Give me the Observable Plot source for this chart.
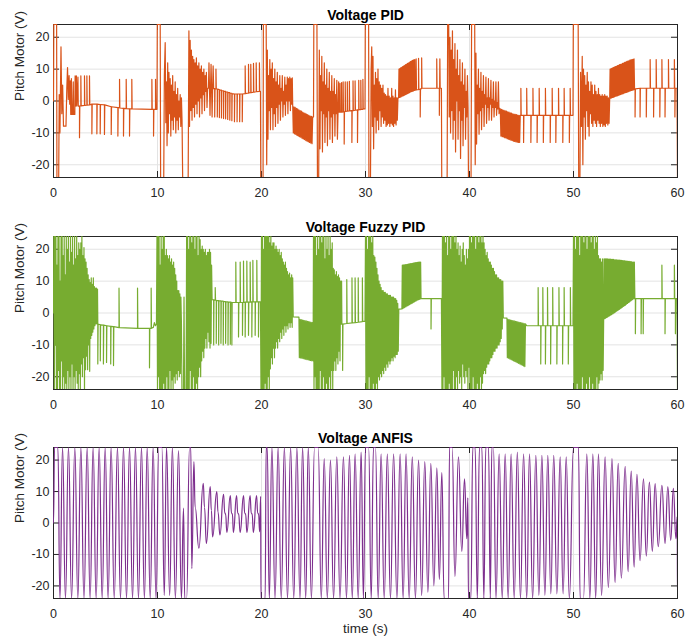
<!DOCTYPE html>
<html><head><meta charset="utf-8">
<script src="https://cdn.jsdelivr.net/npm/d3@7"></script>
<script src="https://cdn.jsdelivr.net/npm/@observablehq/plot@0.6"></script>
<style>
body{margin:0;background:#fff;}
#chart{width:685px;}
#chart svg{display:block;}
</style></head><body><div id="chart"></div>
<script>
const xTicks = [0,10,20,30,40,50,60];
const yTicks = [-20,-10,0,10,20];
const titles = ["Voltage PID","Voltage Fuzzy PID","Voltage ANFIS"];
const colors = ["#D95319","#77AC30","#7E2F8E"];
const yLabel = "Pitch Motor (V)";
const xLabel = "time (s)";

// PID: time (s), voltage (V) pairs
const pidTV = [
0,0, 0.03,24, 0.3,24, 0.33,-24, 0.5,-24, 0.55,2, 0.62,-10, 0.72,17, 0.8,-4, 0.88,5, 0.96,-7.9, 1.2,-7.9, 1.28,4, 1.35,10.5, 1.42,0.5, 1.5,8, 1.56,-1, 1.62,6.3, 1.66,-4.2, 1.72,7, 1.76,-4.2, 1.85,-4.2, 1.9,6, 1.94,-4.2, 2.05,-4.2, 2.08,7.9, 2.12,-1.6, 2.2,7.9, 2.24,-1.6, 2.35,7.5, 2.38,-1.6, 2.5,-1.6, 2.5,-11.5, 2.53,-1.6, 2.63,-1.5, 2.63,7.9, 2.66,-1.5, 2.98,-1.4, 2.98,7.9, 3.01,-1.4, 3.21,-1.3, 3.21,7.9, 3.24,-1.3, 3.46,-1.2, 3.46,7.9, 3.49,-1.2,
3.69,-1.0, 3.69,-10.3, 3.72,-1.0, 4.17,-1.0, 4.17,-10.3, 4.2,-1.0, 4.49,-1.1, 4.49,-10.3, 4.52,-1.1, 4.9,-1.2, 4.9,-10.5, 4.93,-1.2, 5.55,-1.8, 5.55,-10.5, 5.58,-1.8, 6.19,-2.1, 6.19,-11, 6.22,-2.1, 6.35,-2.1, 6.35,6.8, 6.38,-2.2, 6.73,-2.3, 6.73,-11, 6.76,-2.3, 6.99,-2.4, 6.99,6.8, 7.02,-2.4, 7.31,-2.5, 7.31,-11, 7.34,-2.5, 7.53,-2.5, 7.53,6.8, 7.56,-2.5, 9.46,-2.6, 9.46,6.8, 9.49,-2.6, 9.62,-2.6, 9.62,-11, 9.65,-2.6, 9.81,-2.6, 9.81,6.8, 9.84,-2.6,
9.95,-2.6, 9.98,24, 10.26,24, 10.3,-24, 10.6,-24, 10.66,8, 10.74,18.3, 10.8,-6.8, 10.86,6, 10.92,-14, 10.98,12, 11.04,-10, 11.1,9, 11.16,-4, 11.22,7, 11.28,-11, 11.34,5, 11.4,-6, 11.46,8, 11.52,-9, 11.58,3, 11.64,-5, 11.7,6, 11.76,-10, 11.82,2, 11.88,-6, 11.94,4, 12.0,-9, 12.06,0, 12.12,-5, 12.18,2, 12.24,-8, 12.3,1, 12.36,-6, 12.42,-24, 12.95,-24, 13.02,22, 13.08,-8, 13.14,19, 13.2,-3, 13.26,16, 13.32,-6, 13.38,14, 13.44,-2, 13.5,13, 13.56,-5, 13.62,12, 13.68,-1, 13.74,13.5, 13.8,-4, 13.86,11, 13.92,0, 13.98,12, 14.04,-5, 14.1,10, 14.16,1, 14.22,11, 14.28,-4, 14.34,9, 14.4,2, 14.46,10, 14.52,-3, 14.58,8, 14.64,3, 14.7,9, 14.76,-2, 14.82,4,
14.9,4, 14.95,12, 15.0,4, 15.05,-4.5, 15.1,4, 15.15,11.5, 15.2,4, 15.25,-5, 15.3,4, 15.35,11, 15.4,3.9, 15.5,3.9, 15.5,-5, 15.53,3.8, 15.62,3.8, 15.62,10, 15.65,3.8, 15.75,3.7, 15.75,-5, 15.78,3.7, 15.95,3.6, 15.95,-5.2, 15.98,3.5, 16.15,3.4, 16.15,-5.3, 16.18,3.3, 16.35,3.2, 16.35,-5.5, 16.38,3.1, 16.55,3.0, 16.55,-5.6, 16.58,2.9, 16.75,2.8, 16.75,-5.8, 16.78,2.7, 16.95,2.6, 16.95,-6, 16.98,2.5, 17.15,2.4, 17.15,-6.2, 17.18,2.3, 17.4,2.2, 17.4,-6.5, 17.43,2.2, 17.65,2.2, 17.65,-6.5, 17.68,2.2, 17.9,2.2, 17.9,-6.5, 17.93,2.2, 18.15,2.2, 18.15,-6.5, 18.18,2.2, 18.43,2.3, 18.43,11, 18.46,2.3, 18.75,2.5, 18.75,11.5, 18.78,2.5, 18.97,2.6, 18.97,11.5, 19.0,2.6, 19.23,2.8, 19.23,11.8, 19.26,2.8, 19.49,2.9, 19.49,12, 19.52,2.9, 19.8,3.0, 19.8,12, 19.83,3.0,
19.9,3, 19.93,-24, 20.15,-24, 20.18,24, 20.45,24, 20.5,-20, 20.56,16, 20.62,-12, 20.68,8, 20.74,-3, 20.8,13, 20.86,-9, 20.92,10, 20.98,-2, 21.04,12, 21.1,-9, 21.16,7, 21.22,-4, 21.28,10, 21.34,-8, 21.4,6, 21.46,-2, 21.52,9, 21.58,-7, 21.64,5, 21.7,-1, 21.76,8, 21.82,-6, 21.88,4, 21.94,0, 22.0,8, 22.06,-5, 22.12,3, 22.18,-1, 22.24,7.5, 22.3,-4.5, 22.36,5, 22.42,0, 22.48,7.5, 22.54,-4, 22.6,7, 22.66,0, 22.72,7.5, 22.78,-3, 22.84,7, 22.9,-1, 22.96,7.3, 23.0,-1.5,
23.06,-10, 23.12,-1.8, 23.18,-10.3, 23.24,-2.0, 23.3,-10.5, 23.36,-2.3, 23.42,-10.8, 23.48,-2.5, 23.54,-11, 23.6,-2.8, 23.66,-11.2, 23.72,-3.0, 23.78,-11.4, 23.84,-3.2, 23.9,-11.7, 23.96,-3.5, 24.02,-11.9, 24.08,-3.7, 24.14,-12.1, 24.2,-3.9, 24.26,-12.4, 24.32,-4.1, 24.38,-12.6, 24.44,-4.3, 24.5,-12.8, 24.56,-4.5, 24.62,-13, 24.68,-4.7, 24.74,-13.2, 24.8,-4.8, 24.86,-13.4, 24.92,-5,
25.0,-5, 25.03,24, 25.33,24, 25.38,-24, 25.5,-24, 25.56,16, 25.62,-15, 25.68,8, 25.74,-3, 25.8,14, 25.86,-16, 25.92,6, 25.98,-4, 26.04,12, 26.1,-13, 26.16,5, 26.22,-5, 26.28,10, 26.34,-14, 26.4,4, 26.46,-3, 26.52,9, 26.58,-12, 26.64,3, 26.7,-5, 26.76,8, 26.82,-13, 26.88,3, 26.94,-4, 27.0,7, 27.06,-11, 27.12,2, 27.18,-4, 27.24,6.5, 27.3,-12, 27.36,-3.5, 27.42,6, 27.46,-3.5,
27.55,-3.5, 27.55,5.5, 27.58,-3.5, 27.7,-3.5, 27.7,5.8, 27.73,-3.5, 27.85,-3.4, 27.85,6, 27.88,-3.4, 27.95,-3.4, 27.95,-13.5, 27.98,-3.4, 28.05,-3.3, 28.05,6, 28.08,-3.3, 28.25,-3.2, 28.25,6, 28.28,-3.2, 28.45,-3.1, 28.45,6.2, 28.48,-3.1, 28.69,-3.0, 28.69,-13, 28.72,-3.0, 28.8,-3.0, 28.8,6.3, 28.83,-3.0, 29.0,-2.9, 29.0,6.3, 29.03,-2.9, 29.23,-2.8, 29.23,-13, 29.26,-2.8, 29.35,-2.8, 29.35,6.5, 29.38,-2.7, 29.55,-2.7, 29.55,6.5, 29.58,-2.6, 29.75,-2.6, 29.75,6.8, 29.78,-2.5,
29.95,-2.5, 29.98,24, 30.3,24, 30.33,-24, 30.48,-24, 30.54,10, 30.6,17, 30.66,-8, 30.72,14, 30.78,-15, 30.84,5, 30.9,-5, 30.96,9, 31.02,-10, 31.08,7, 31.14,-6, 31.2,10, 31.26,-9, 31.32,6, 31.38,-3, 31.44,5, 31.5,-8, 31.56,4, 31.62,-5, 31.68,5, 31.74,-7, 31.8,2.5, 31.86,-6, 31.92,2, 31.98,-8, 32.04,1.5, 32.1,-7.5, 32.16,4, 32.22,-7, 32.28,1.5, 32.34,-8, 32.4,1, 32.46,-7, 32.52,4, 32.58,-7.5, 32.64,1.5, 32.7,-8, 32.76,1, 32.82,-7, 32.88,3.5, 32.94,-7.5, 33.0,1, 33.06,-6, 33.12,1,
33.18,1.0, 33.22,10, 33.26,1.1, 33.3,10.2, 33.34,1.2, 33.38,10.4, 33.42,1.3, 33.46,10.5, 33.5,1.5, 33.54,10.7, 33.58,1.6, 33.62,10.9, 33.66,1.7, 33.7,11, 33.74,1.8, 33.78,11.2, 33.82,2.0, 33.86,11.4, 33.9,2.1, 33.94,11.5, 33.98,2.2, 34.02,11.7, 34.06,2.4, 34.1,11.9, 34.14,2.5, 34.18,12, 34.22,2.6, 34.26,12.2, 34.3,2.8, 34.34,12.4, 34.38,2.9, 34.42,12.5, 34.46,3.0, 34.5,12.7, 34.54,3.1, 34.58,12.8, 34.62,3.2, 34.66,12.9, 34.7,3.3, 34.74,13, 34.78,3.4,
34.87,3.5, 34.87,13.2, 34.9,3.5, 35.1,3.6, 35.1,13.4, 35.13,3.6, 35.26,3.7, 35.26,-5, 35.29,3.8, 35.4,3.9, 35.4,13.5, 35.43,4, 36.85,4, 36.85,13.2, 36.88,4, 37.1,4, 37.1,-4.5, 37.13,4, 37.15,13.2, 37.18,4,
37.3,4, 37.33,-24, 37.85,-24, 37.9,24, 38.0,24, 38.05,-5, 38.12,20, 38.18,-10, 38.24,16, 38.3,-3, 38.36,22, 38.42,-12, 38.48,13, 38.54,-6, 38.6,18, 38.66,-16, 38.72,10, 38.78,0, 38.84,16, 38.9,-12, 38.96,8, 39.02,-3, 39.08,13, 39.14,-18, 39.2,6, 39.26,-6, 39.32,12, 39.38,-14, 39.44,5, 39.5,-2, 39.56,10, 39.62,-12, 39.68,3, 39.74,-5, 39.8,8, 39.86,-2, 39.9,-24, 40.15,-24, 40.2,24, 40.5,24, 40.55,-20,
40.62,15, 40.68,-13.5, 40.74,5, 40.8,-4, 40.86,10, 40.92,-10.4, 40.98,4, 41.04,-3, 41.1,9, 41.16,-9, 41.22,3, 41.28,-2, 41.34,8, 41.4,-8, 41.46,2, 41.52,-1, 41.58,7.5, 41.64,-7, 41.7,1, 41.76,-2, 41.82,7, 41.88,-6, 41.94,1, 42.0,-1, 42.06,6.5, 42.12,-6, 42.18,0.5, 42.24,-2, 42.3,6, 42.36,-5, 42.42,0, 42.48,-2, 42.54,6, 42.6,-4.5, 42.66,-0.5, 42.72,-2.5, 42.78,6, 42.84,-4, 42.9,-2.3, 42.96,-2.5,
43.02,-11, 43.08,-2.6, 43.14,-11.2, 43.2,-2.8, 43.26,-11.3, 43.32,-2.9, 43.38,-11.5, 43.44,-3.1, 43.5,-11.6, 43.56,-3.2, 43.62,-11.8, 43.68,-3.4, 43.74,-12, 43.8,-3.5, 43.86,-12.1, 43.92,-3.7, 43.98,-12.3, 44.04,-3.8, 44.1,-12.4, 44.16,-4.0, 44.22,-12.6, 44.28,-4.1, 44.34,-12.7, 44.4,-4.2, 44.46,-12.8, 44.52,-4.3, 44.58,-12.9, 44.64,-4.4, 44.7,-13, 44.76,-4.5, 44.82,-13, 44.88,-4.5,
44.94,-4.5, 44.94,4, 44.97,-4.5, 45.2,-4.5, 45.2,-13, 45.23,-4.5, 45.5,-4.5, 45.5,4, 45.53,-4.5, 45.9,-4.5, 45.9,-13, 45.93,-4.5, 46.1,-4.5, 46.1,4, 46.13,-4.5, 46.5,-4.5, 46.5,-13, 46.53,-4.5, 46.7,-4.5, 46.7,4, 46.73,-4.5, 47.1,-4.5, 47.1,-13, 47.13,-4.5, 47.3,-4.5, 47.3,4, 47.33,-4.5, 47.76,-4.5, 47.76,-13, 47.79,-4.5, 47.95,-4.5, 47.95,4, 47.98,-4.5, 48.3,-4.5, 48.3,-13, 48.33,-4.5, 48.56,-4.5, 48.56,4, 48.59,-4.5, 48.97,-4.5, 48.97,-13, 49.0,-4.5, 49.1,-4.5, 49.1,4, 49.13,-4.5, 49.6,-4.5, 49.6,-13, 49.63,-4.5, 49.68,-4.5, 49.68,4, 49.71,-4.5,
49.95,-4.5, 49.98,24, 50.45,24, 50.5,-24, 50.62,-24, 50.68,9, 50.76,-8, 50.84,14, 50.9,-20, 50.96,10, 51.02,-5, 51.08,8, 51.14,-12, 51.2,5, 51.26,-3, 51.32,9, 51.38,-8, 51.44,6, 51.5,-11, 51.56,3, 51.62,-4, 51.68,6, 51.74,-7, 51.8,5, 51.86,-8, 51.92,2, 51.98,-6, 52.04,5, 52.1,-7, 52.16,3, 52.22,-8, 52.28,2, 52.34,-6, 52.4,4, 52.46,-7, 52.52,2, 52.58,-8, 52.64,1.5, 52.7,-7, 52.76,2, 52.82,-8, 52.88,1.5, 52.94,-7.5, 53.0,2, 53.06,-8, 53.12,1.5, 53.18,-7, 53.24,1.5, 53.3,-7.5, 53.36,1, 53.42,-7, 53.48,0.8,
53.52,10, 53.57,0.9, 53.62,10.2, 53.67,1.0, 53.72,10.3, 53.77,1.1, 53.82,10.5, 53.87,1.2, 53.92,10.6, 53.97,1.4, 54.02,10.8, 54.07,1.5, 54.12,10.9, 54.17,1.6, 54.22,11.1, 54.27,1.7, 54.32,11.2, 54.37,1.8, 54.42,11.4, 54.47,2.0, 54.52,11.5, 54.57,2.1, 54.62,11.6, 54.67,2.2, 54.72,11.8, 54.77,2.3, 54.82,11.9, 54.87,2.5, 54.92,12.1, 54.97,2.6, 55.02,12.2, 55.07,2.7, 55.12,12.4, 55.17,2.8, 55.22,12.5, 55.27,2.9, 55.32,12.6, 55.37,3.1, 55.42,12.8, 55.47,3.2, 55.52,12.9, 55.57,3.3, 55.62,13, 55.67,3.4, 55.72,13.1, 55.77,3.5, 55.82,13.2, 55.87,3.6,
55.92,3.7, 55.92,-5, 55.95,3.8, 56.4,4, 56.4,-5, 56.43,4, 57.0,4, 57.0,-5, 57.03,4, 57.37,4, 57.37,13, 57.4,4, 57.7,4, 57.7,-5, 57.73,4, 57.95,4, 57.95,13, 57.98,4, 58.3,4, 58.3,-5, 58.33,4, 58.5,4, 58.5,13, 58.53,4, 58.8,4, 58.8,-5, 58.83,4, 59.13,4, 59.13,13, 59.16,4, 59.7,4, 59.7,13, 59.73,4, 59.75,4, 59.75,-5, 59.78,4, 59.95,4, 60,-24
];

// Fuzzy PID: time (s), voltage (V) pairs
const fuzzyTV = [
0,0, 0.03,24, 0.08,-24, 0.13,24, 0.18,-10, 0.23,24, 0.28,-24, 0.33,15, 0.38,-24, 0.43,24, 0.48,-18, 0.53,24, 0.58,-24, 0.63,10, 0.68,-24, 0.73,24, 0.78,-15, 0.83,24, 0.88,-24, 0.93,18, 0.98,-20, 1.03,24, 1.08,-24, 1.13,12, 1.18,-22, 1.23,24, 1.28,-24, 1.33,20, 1.38,-18, 1.43,24, 1.48,-24, 1.53,16, 1.58,-20, 1.63,24, 1.68,-24, 1.73,19, 1.78,-16, 1.83,24, 1.88,-24, 1.93,15, 1.98,-20, 2.03,24, 2.08,-24, 2.13,17, 2.18,-18, 2.23,24, 2.28,-22, 2.33,18, 2.38,-24, 2.43,22, 2.48,-19, 2.53,20, 2.58,-24, 2.63,22, 2.68,-16, 2.73,24, 2.78,-20, 2.83,18, 2.88,-14, 2.93,20.5, 2.98,-24, 3.03,17, 3.08,-17.8, 3.13,16, 3.18,-13.5, 3.23,14, 3.28,-17.8, 3.33,12, 3.38,-10, 3.43,10.5, 3.48,-18.3, 3.53,9.5, 3.58,-8, 3.63,11, 3.68,-7, 3.73,9, 3.78,-6, 3.83,11, 3.88,-5, 3.93,8.3, 3.98,-4, 4.03,7.8, 4.08,-3.4, 4.13,7.8, 4.18,-3.4, 4.23,7.5, 4.26,-3.5,
4.26,-16, 4.29,-3.5, 4.5,-3.7, 4.5,-15, 4.53,-3.7, 4.8,-3.8, 4.8,-16, 4.83,-3.8, 5.1,-4.0, 5.1,-15.5, 5.13,-4.0, 5.5,-4.2, 5.5,-16, 5.53,-4.2, 5.77,-4.3, 5.77,-16.5, 5.8,-4.3, 6.3,-4.6, 6.3,7.8, 6.33,-4.6, 8.08,-4.8, 8.08,7.8, 8.11,-4.8, 9.23,-4.8, 9.23,-17.2, 9.26,-4.8, 9.39,-4.8, 9.39,7.8, 9.42,-4.8, 9.6,-4.5, 9.7,-3, 9.8,-4, 9.9,-3.5,
9.95,24, 10.0,-24, 10.05,24, 10.1,-20, 10.15,24, 10.2,-24, 10.25,15, 10.3,-24, 10.35,24, 10.4,-24, 10.45,20, 10.5,-24, 10.55,24, 10.6,-22, 10.65,24, 10.7,-24, 10.75,18, 10.8,-24, 10.85,20, 10.9,-20, 10.95,18, 11.0,-24, 11.05,17, 11.1,-24, 11.15,18, 11.2,-18, 11.25,16, 11.3,-24, 11.35,17, 11.4,-21, 11.45,15, 11.5,-24, 11.55,16, 11.6,-20, 11.65,14, 11.7,-22, 11.75,12, 11.8,-19, 11.85,10, 11.9,-21, 11.95,7, 12.0,-18, 12.05,7, 12.1,-20, 12.15,6, 12.2,-19, 12.25,5, 12.3,-3,
12.35,-24, 12.5,-24, 12.55,5, 12.6,-24, 12.75,-24, 12.8,24,
12.85,-24, 12.9,24, 12.95,-24, 13.0,20, 13.05,-24, 13.1,24, 13.15,-18, 13.2,24, 13.25,-24, 13.3,22, 13.35,-24, 13.4,24, 13.45,-20, 13.5,24, 13.55,-24, 13.6,20, 13.65,-24, 13.7,24, 13.75,-22, 13.8,24, 13.85,-24, 13.9,18, 13.95,-20, 14.0,24, 14.05,-17, 14.1,23, 14.15,-20, 14.2,20, 14.25,-15, 14.3,21, 14.35,-12, 14.4,20, 14.45,-14, 14.5,19, 14.55,-11, 14.6,20, 14.65,-8, 14.7,18, 14.75,-11, 14.8,19, 14.85,-6, 14.9,19, 14.95,-9, 15.0,20, 15.05,-11, 15.1,19, 15.15,-9.5, 15.2,15, 15.25,4.2,
15.4,4.1, 15.4,-10, 15.43,4.1, 15.55,4.0, 15.55,8, 15.58,4.0, 15.65,4.0, 15.65,-9.5, 15.68,3.9, 15.88,3.9, 15.88,-10, 15.91,3.8, 16.1,3.8, 16.1,-9.5, 16.13,3.7, 16.32,3.7, 16.32,-10, 16.35,3.6, 16.55,3.6, 16.55,-9.5, 16.58,3.5, 16.78,3.5, 16.78,-10, 16.81,3.4, 17.0,3.4, 17.0,-9.8, 17.03,3.4, 17.15,3.3, 17.15,-10, 17.18,3.3,
17.53,3.3, 17.53,16, 17.56,3.3, 17.79,3.3, 17.79,-7.5, 17.82,3.3, 17.95,3.3, 17.95,16, 17.98,3.3, 18.17,3.3, 18.17,-7, 18.2,3.3, 18.27,3.3, 18.27,16.3, 18.3,3.3, 18.43,3.4, 18.43,-7.5, 18.46,3.4, 18.59,3.4, 18.59,16.3, 18.62,3.4, 18.75,3.4, 18.75,-7, 18.78,3.4, 18.91,3.4, 18.91,16, 18.94,3.4, 19.07,3.5, 19.07,-7.5, 19.1,3.5, 19.17,3.5, 19.17,16.5, 19.2,3.5, 19.39,3.5, 19.39,-7, 19.42,3.5, 19.55,3.5, 19.55,16.5, 19.58,3.5, 19.71,3.5, 19.71,-7.5, 19.74,3.5, 19.9,3.5,
19.95,-24, 20.0,24, 20.05,-24, 20.1,24, 20.15,-24, 20.2,20, 20.25,-24, 20.3,24, 20.35,-22, 20.4,24, 20.45,-24, 20.5,24, 20.55,-24, 20.6,24, 20.65,-20, 20.7,24, 20.75,-24, 20.8,22, 20.85,-17.5, 20.9,24, 20.95,-14, 21.0,21, 21.05,-16, 21.1,22, 21.15,-11, 21.2,22, 21.25,-14, 21.3,20, 21.35,-11, 21.4,21, 21.45,-9, 21.5,20, 21.55,-11, 21.6,19, 21.65,-8, 21.7,20, 21.75,-9, 21.8,18, 21.85,-6, 21.9,19, 21.95,-8, 22.0,17, 22.05,-5, 22.1,16, 22.15,-7, 22.2,15, 22.25,-4, 22.3,16, 22.35,-6, 22.4,14, 22.45,-4, 22.5,13, 22.55,-5, 22.6,12, 22.65,-3, 22.7,12.5, 22.75,-4.5, 22.8,11, 22.85,-3, 22.9,12, 22.95,-4.5, 23.0,11, 23.05,-1.2,
23.6,-1.3, 23.64,-14, 23.7,-2.0, 23.76,-14.1, 23.82,-2.1, 23.88,-14.2, 23.94,-2.2, 24.0,-14.3, 24.06,-2.3, 24.12,-14.4, 24.18,-2.4, 24.24,-14.5, 24.3,-2.5, 24.36,-14.6, 24.42,-2.6, 24.48,-14.7, 24.54,-2.7, 24.6,-14.8, 24.66,-2.8, 24.72,-14.9, 24.78,-2.9, 24.84,-15, 24.9,-3, 24.96,-15,
25.0,24, 25.05,-24, 25.1,24, 25.15,-20, 25.2,24, 25.25,-24, 25.3,18, 25.35,-24, 25.4,24, 25.45,-24, 25.5,20, 25.55,-24, 25.6,24, 25.65,-18, 25.7,24, 25.75,-24, 25.8,22, 25.85,-24, 25.9,24, 25.95,-20, 26.0,24, 26.05,-24, 26.1,17, 26.15,-24, 26.2,24, 26.25,-22, 26.3,20, 26.35,-24, 26.4,24, 26.45,-24, 26.5,18, 26.55,-20, 26.6,24, 26.65,-24, 26.7,20, 26.75,-18, 26.8,22, 26.85,-24,
26.9,14, 26.95,-18, 27.0,13.5, 27.05,-15, 27.1,12, 27.15,-18, 27.2,13, 27.25,-14, 27.3,11.4, 27.35,-16, 27.4,12, 27.45,-12, 27.5,11, 27.55,-15, 27.6,10, 27.65,-3.5, 27.7,10, 27.73,-3.5, 27.8,-3.5, 27.8,-18, 27.83,-3.5,
28.2,-3.3, 28.2,10.5, 28.23,-3.3, 28.7,-3.1, 28.7,11, 28.73,-3.1, 29.0,-3.0, 29.0,11, 29.03,-3.0, 29.3,-2.9, 29.3,11, 29.33,-2.9, 29.7,-2.7, 29.7,11, 29.73,-2.6, 29.95,-2.6,
30.0,24, 30.05,-24, 30.1,24, 30.15,-24, 30.2,20, 30.25,-24, 30.3,24, 30.35,-20, 30.4,24, 30.45,-24, 30.5,24, 30.55,-24, 30.6,22, 30.65,-24, 30.7,24, 30.75,-22,
30.8,18, 30.85,-24, 30.9,17.5, 30.95,-24, 31.0,16, 31.05,-22, 31.1,14, 31.15,-24, 31.2,12, 31.25,-20, 31.3,10, 31.35,-21, 31.4,9, 31.45,-19, 31.5,8, 31.55,-20, 31.6,7, 31.65,-18, 31.7,7, 31.75,-19, 31.8,6.5, 31.85,-17, 31.9,6.5, 31.95,-18, 32.0,6, 32.05,-16, 32.1,6, 32.15,-17, 32.2,5.5, 32.25,-15, 32.3,5.5, 32.35,-16, 32.4,5.5, 32.45,-15, 32.5,5, 32.55,-14, 32.6,5, 32.65,-15, 32.7,5, 32.75,-13.5, 32.8,4.5, 32.85,-14, 32.9,4.5, 32.95,-13, 33.0,4, 33.05,-13, 33.1,3, 33.15,-12, 33.2,1.2,
33.5,1.3, 33.54,15, 33.58,1.4, 33.62,15, 33.66,1.6, 33.7,15.1, 33.74,1.7, 33.78,15.1, 33.82,1.9, 33.86,15.2, 33.9,2.0, 33.94,15.2, 33.98,2.2, 34.02,15.3, 34.06,2.3, 34.1,15.3, 34.14,2.5, 34.18,15.4, 34.22,2.6, 34.26,15.4, 34.3,2.8, 34.34,15.5, 34.38,2.9, 34.42,15.5, 34.46,3.1, 34.5,15.6, 34.54,3.2, 34.58,15.6, 34.62,3.4, 34.66,15.7, 34.7,3.5, 34.74,15.7, 34.78,3.7, 34.82,15.8, 34.86,3.8, 34.9,15.8, 34.94,4.0, 34.98,15.9, 35.02,4.1, 35.06,15.9, 35.1,4.2, 35.14,16, 35.18,4.3, 35.22,16, 35.26,4.4, 35.3,16, 35.34,4.5,
36.3,4.5, 36.3,-5, 36.33,4.5, 37.3,4.5,
37.35,-24, 37.4,24, 37.45,-24, 37.5,24, 37.55,-20, 37.6,24, 37.65,-24, 37.7,22, 37.75,-24, 37.8,24, 37.85,-24, 37.9,18, 37.95,-24, 38.0,24, 38.05,-22, 38.1,24, 38.15,-24, 38.2,20, 38.25,-24, 38.3,24, 38.35,-24, 38.4,24, 38.45,-18, 38.5,24, 38.55,-24, 38.6,22, 38.65,-24, 38.7,24, 38.75,-20, 38.8,20, 38.85,-24, 38.9,22, 38.95,-18, 39.0,18, 39.05,-22, 39.1,21, 39.15,-20, 39.2,16, 39.25,-24, 39.3,20, 39.35,-16, 39.4,22, 39.45,-20, 39.5,18, 39.55,-22, 39.6,15, 39.65,-18, 39.7,20, 39.75,-20, 39.8,17, 39.85,-24, 39.9,20, 39.95,-17, 40.0,24, 40.05,-24, 40.1,24, 40.15,-24, 40.2,22, 40.25,-24, 40.3,24, 40.35,-20, 40.4,24, 40.45,-24, 40.5,24, 40.55,-24, 40.6,20, 40.65,-24, 40.7,24, 40.75,-22, 40.8,24, 40.85,-24, 40.9,22, 40.95,-24, 41.0,24, 41.05,-20, 41.1,24, 41.15,-24, 41.2,22, 41.25,-22, 41.3,24, 41.35,-19, 41.4,22, 41.45,-18, 41.5,20, 41.55,-19, 41.6,18, 41.65,-17, 41.7,19, 41.75,-16, 41.8,17, 41.85,-16, 41.9,16, 41.95,-15, 42.0,16, 42.05,-14, 42.1,15, 42.15,-14, 42.2,14, 42.25,-13, 42.3,14, 42.35,-12, 42.4,13, 42.45,-12, 42.5,12, 42.55,-11, 42.6,12, 42.65,-11, 42.7,11, 42.75,-10, 42.8,11, 42.85,-10, 42.9,10.5, 42.95,-9, 43.0,10.5, 43.05,-8, 43.1,10, 43.15,-5, 43.2,10, 43.25,-1.5,
43.6,-1.6, 43.64,-14, 43.7,-2.0, 43.76,-14.2, 43.82,-2.1, 43.88,-14.4, 43.94,-2.2, 44.0,-14.6, 44.06,-2.3, 44.12,-14.8, 44.18,-2.4, 44.24,-15, 44.3,-2.5, 44.36,-15.2, 44.42,-2.6, 44.48,-15.4, 44.54,-2.7, 44.6,-15.6, 44.66,-2.8, 44.72,-15.8, 44.78,-2.9, 44.84,-16, 44.9,-3.0, 44.96,-16.2, 45.02,-3.1, 45.08,-16.4, 45.14,-3.2, 45.2,-16.6, 45.26,-3.3, 45.32,-16.8, 45.38,-3.4,
45.5,-4, 46.6,-4, 46.6,8, 46.63,-4, 46.85,-4, 46.85,-16, 46.88,-4, 47.05,-4, 47.05,8, 47.08,-4, 47.3,-4, 47.3,-16, 47.33,-4, 47.5,-4, 47.5,8, 47.53,-4, 47.8,-4, 47.8,-16, 47.83,-4, 48.0,-4, 48.0,8, 48.03,-4, 48.4,-4, 48.4,-16, 48.43,-4, 48.6,-4, 48.6,8, 48.63,-4, 48.95,-4, 48.95,-16, 48.98,-4, 49.1,-4, 49.1,8, 49.13,-4, 49.5,-4, 49.5,-16, 49.53,-4, 49.7,-4, 49.7,8, 49.73,-4, 49.95,-4,
50.0,24, 50.05,-24, 50.1,24, 50.15,-24, 50.2,20, 50.25,-24, 50.3,24, 50.35,-22, 50.4,24, 50.45,-24, 50.5,24, 50.55,-24, 50.6,18, 50.65,-24, 50.7,24, 50.75,-24, 50.8,24, 50.85,-20, 50.9,24, 50.95,-24, 51.0,22, 51.05,-24, 51.1,24, 51.15,-24, 51.2,24, 51.25,-22, 51.3,20, 51.35,-24, 51.4,24, 51.45,-24, 51.5,24, 51.55,-20, 51.6,24, 51.65,-24, 51.7,22, 51.75,-24, 51.8,24, 51.85,-22, 51.9,24, 51.95,-24, 52.0,20, 52.05,-24, 52.1,24, 52.15,-24, 52.2,22, 52.25,-20, 52.3,24, 52.35,-24, 52.4,18, 52.45,-22, 52.5,17, 52.55,-21, 52.6,17, 52.65,-19, 52.7,16, 52.75,-21, 52.8,17, 52.85,-18,
52.9,-2, 52.95,17, 53.0,-1.8, 53.05,17, 53.1,-1.6, 53.15,17, 53.2,-1.4, 53.25,17, 53.3,-1.2, 53.35,16.9, 53.4,-1.0, 53.45,16.9, 53.5,-0.8, 53.55,16.9, 53.6,-0.6, 53.65,16.8, 53.7,-0.4, 53.75,16.8, 53.8,-0.2, 53.85,16.8, 53.9,0, 53.95,16.7, 54.0,0.2, 54.05,16.7, 54.1,0.5, 54.15,16.7, 54.2,0.7, 54.25,16.6, 54.3,0.9, 54.35,16.6, 54.4,1.1, 54.45,16.6, 54.5,1.4, 54.55,16.5, 54.6,1.6, 54.65,16.5, 54.7,1.8, 54.75,16.4, 54.8,2.1, 54.85,16.4, 54.9,2.3, 54.95,16.4, 55.0,2.5, 55.05,16.3, 55.1,2.8, 55.15,16.3, 55.2,3.0, 55.25,16.2, 55.3,3.3, 55.35,16.2, 55.4,3.5, 55.45,16.1, 55.5,3.8, 55.55,16.1, 55.6,4.0, 55.65,16, 55.7,4.3, 55.75,16, 55.8,4.5, 55.85,16, 55.9,4.5,
55.95,4.5, 55.95,-6.5, 55.98,4.5, 56.5,4.5, 56.5,-6.5, 56.53,4.5, 56.7,4.5, 56.7,-6.5, 56.73,4.5, 58.5,4.5, 58.5,15, 58.53,4.5, 58.8,4.5, 58.8,-6.5, 58.83,4.5, 59.7,4.5, 59.7,15, 59.73,4.5, 59.8,4.5, 59.8,-6.5, 59.83,4.5, 59.95,4.5, 60,-24
];

// ANFIS: time (s), voltage (V) of the oscillation peaks and troughs
const anfisTV = [
0,0, 0.1,24, 0.42,24, 0.62,-24, 0.87,24, 1.15,-24, 1.44,24, 1.74,-24, 2.05,24, 2.34,-24, 2.63,24, 2.93,-24, 3.24,24, 3.52,-24, 3.81,24, 4.1,-24, 4.39,24, 4.68,-24, 4.97,24, 5.25,-24, 5.54,24, 5.84,-24, 6.15,24, 6.44,-24, 6.73,24, 7.02,-24, 7.31,24, 7.6,-24, 7.88,24, 8.17,-24, 8.46,24, 8.74,-24, 9.01,24, 9.3,-24, 9.58,24, 9.86,-24, 10.13,24, 10.42,24, 10.65,-23, 10.87,24, 11.17,-23, 11.43,24, 11.72,-24, 12.02,23, 12.3,-24, 12.5,4.7, 12.62,-24, 12.8,-24, 13.08,24, 13.2,24,
13.3,-14.5, 13.5,19.5, 13.62,5, 13.98,-8, 14.4,12.6, 14.52,5, 14.7,-6.5, 15.07,11.6, 15.18,4, 15.3,-4.4, 15.7,10, 15.82,3.5, 16.0,-3.8, 16.35,9.1, 16.47,3.2, 16.55,2.8, 16.67,-3, 17.0,8.7, 17.12,3.1, 17.2,2.9, 17.3,-3, 17.6,8.7, 17.72,3.1, 17.8,2.9, 17.95,-3, 18.27,8.7, 18.39,3.1, 18.47,2.9, 18.6,-3, 18.9,8.7, 19.02,3.1, 19.1,2.9, 19.22,-3, 19.52,8.7, 19.64,3.1, 19.72,2.9, 19.82,-2.8, 19.92,8.5, 19.95,-24,
20.35,-24, 20.45,24, 20.55,24, 20.75,-24, 21.0,24, 21.3,-24, 21.6,24, 21.9,-24, 22.2,24, 22.5,-24, 22.8,24, 23.1,-24, 23.4,24, 23.7,-24, 23.95,24, 24.25,-24, 24.5,24, 24.8,-24, 25.1,24, 25.45,24, 25.75,-24, 26.03,20.5, 26.33,-24, 26.63,20, 26.93,-24, 27.24,21, 27.55,-24, 27.88,21, 28.17,-24, 28.46,21.5, 28.73,-24, 29.0,22, 29.3,-24, 29.58,22.5, 29.8,-24,
30.0,24, 30.3,24, 30.55,-24, 30.77,24, 30.96,24, 31.22,-24, 31.5,22, 31.8,-24, 32.1,22, 32.4,-24, 32.7,22, 33.02,-24, 33.33,22, 33.62,-24, 33.9,22, 34.2,-24, 34.5,21, 34.8,-24, 35.1,20, 35.4,-23, 35.7,19.5, 36.0,-22, 36.28,19, 36.57,-20, 36.86,17.5, 37.1,-18, 37.34,16, 37.56,-24, 37.98,-24, 38.08,24, 38.33,24, 38.6,-17, 38.94,21, 39.26,-9, 39.52,14, 39.74,-5, 39.84,8, 39.9,-24, 40.13,-24,
40.32,24, 40.54,24, 40.75,-24, 40.96,24, 41.19,24, 41.38,-24, 41.57,24, 41.83,24, 42.0,-24, 42.15,24, 42.3,24, 42.55,-24, 42.85,22, 43.15,-24, 43.43,22, 43.72,-24, 44.0,22, 44.3,-24, 44.6,22.5, 44.9,-24, 45.2,22, 45.5,-24, 45.77,22, 46.07,-24, 46.38,21.5, 46.67,-23, 46.96,21.5, 47.25,-23, 47.53,21.5, 47.82,-22.5, 48.1,21.5, 48.4,-22.5, 48.72,21, 49.0,-22.5, 49.3,21, 49.6,-24,
50.0,24, 50.48,24, 50.64,-24, 50.96,-24, 51.28,22, 51.57,-24, 51.86,22, 52.13,-24, 52.4,22, 52.7,-23, 53.04,21, 53.35,-20.5, 53.7,20.5, 54.0,-19, 54.3,19, 54.6,-17.5, 54.97,18, 55.25,-15.5, 55.55,16.5, 55.83,-14, 56.1,15.5, 56.4,-12, 56.73,14, 57.0,-10.5, 57.3,13, 57.58,-9, 57.85,12.5, 58.15,-7.5, 58.5,12, 58.8,-6.5, 59.07,11.5, 59.35,-5.5, 59.6,11, 59.85,-5, 59.97,2, 60,-24
];

function toPoints(a) {
  const r = [];
  for (let i = 0; i < a.length; i += 2) r.push({t: a[i], v: a[i + 1]});
  return r;
}

const W = 685, ML = 53, MR = 8;
const FONT = "'Liberation Sans', Arial, Helvetica, sans-serif";
const panels = [
  {tv: pidTV, title: titles[0], color: colors[0], height: 212, mt: 24, mb: 35, curve: "linear", xlab: false},
  {tv: fuzzyTV, title: titles[1], color: colors[1], height: 212, mt: 24, mb: 35, curve: "linear", xlab: false},
  {tv: anfisTV, title: titles[2], color: colors[2], height: 217, mt: 23, mb: 43, curve: "bump-x", xlab: true}
];

const root = document.getElementById("chart");
for (const p of panels) {
  const ph = p.height - p.mt - p.mb;
  const pw = W - ML - MR;
  const marks = [
    Plot.ruleX(xTicks, {stroke: "#e3e3e3"}),
    Plot.ruleY(yTicks, {stroke: "#e3e3e3"}),
    Plot.frame({stroke: "#262626"}),
    Plot.ruleX(xTicks, {stroke: "#262626", insetTop: ph - 6}),
    Plot.ruleX(xTicks, {stroke: "#262626", insetBottom: ph - 6}),
    Plot.ruleY(yTicks, {stroke: "#262626", insetRight: pw - 6}),
    Plot.ruleY(yTicks, {stroke: "#262626", insetLeft: pw - 6}),
    Plot.axisX({ticks: xTicks, tickSize: 0, tickPadding: 11, tickFormat: d => String(d), label: null, fill: "#262626"}),
    Plot.axisY({ticks: yTicks, tickSize: 0, tickPadding: 4, tickFormat: d => String(d), label: null, fill: "#262626"}),
    Plot.line(toPoints(p.tv), {x: "t", y: "v", stroke: p.color, strokeWidth: 1.2, curve: p.curve, clip: true}),
    Plot.text([p.title], {frameAnchor: "top", dy: -5, lineAnchor: "bottom", fontWeight: "bold", fontSize: 14, fill: "#000"}),
    Plot.text([yLabel], {frameAnchor: "left", dx: -34, rotate: -90, fontSize: 13.5, fill: "#262626"})
  ];
  if (p.xlab) marks.push(Plot.text([xLabel], {frameAnchor: "bottom", dy: 34, fontSize: 13.5, fill: "#262626"}));
  const svg = Plot.plot({
    width: W, height: p.height,
    marginLeft: ML, marginRight: MR, marginTop: p.mt, marginBottom: p.mb,
    x: {domain: [0, 60], label: null},
    y: {domain: [-24, 24], label: null},
    style: {fontSize: "12.5px", fontFamily: FONT, color: "#262626", background: "#fff"},
    marks
  });
  root.append(svg);
}
</script></body></html>
